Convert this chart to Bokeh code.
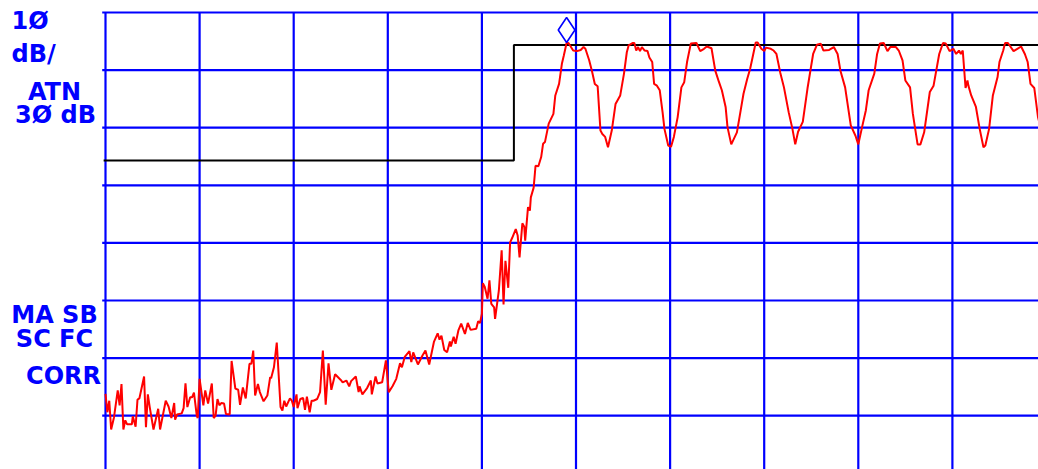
from bokeh.plotting import figure
from bokeh.models import Range1d
from bokeh.core.properties import value
from bokeh.embed import file_html
from bokeh.resources import INLINE

# ---- data (x in graticule divisions, y in dB relative to top graticule line) ----
trace_x = [0.00, 0.02, 0.04, 0.06, 0.09, 0.13, 0.15, 0.17, 0.19, 0.21, 0.23, 0.28, 0.29, 0.32, 0.34, 0.36, 0.41, 0.43, 0.45, 0.47,
           0.51, 0.56, 0.58, 0.64, 0.67, 0.70, 0.73, 0.74, 0.76, 0.81, 0.83, 0.85, 0.87, 0.90, 0.92, 0.94, 0.97, 0.98, 1.00, 1.02,
           1.04, 1.06, 1.09, 1.13, 1.15, 1.17, 1.19, 1.21, 1.23, 1.26, 1.28, 1.32, 1.34, 1.38, 1.41, 1.43, 1.46, 1.49, 1.53, 1.55,
           1.57, 1.59, 1.62, 1.64, 1.68, 1.72, 1.75, 1.76, 1.79, 1.82, 1.86, 1.88, 1.90, 1.92, 1.96,
           1.98, 2.00, 2.03, 2.04, 2.07, 2.10, 2.12, 2.14, 2.17, 2.19, 2.21, 2.25, 2.28, 2.31, 2.34, 2.37, 2.40, 2.44, 2.50, 2.52,
           2.56, 2.59, 2.61, 2.66, 2.69, 2.70, 2.73, 2.78, 2.82, 2.83, 2.87, 2.89, 2.94, 2.98, 3.01, 3.05, 3.09, 3.13, 3.15, 3.18,
           3.23, 3.25, 3.27, 3.32, 3.37, 3.40, 3.44, 3.49, 3.53, 3.55, 3.57, 3.60, 3.63, 3.66, 3.67, 3.70, 3.72, 3.75, 3.78, 3.82,
           3.85, 3.88, 3.94, 3.96, 3.98, 4.00,
           4.01, 4.03, 4.06, 4.08, 4.10, 4.13, 4.14, 4.18, 4.21, 4.23, 4.25, 4.28, 4.30, 4.32, 4.36, 4.38, 4.40, 4.43, 4.45, 4.46,
           4.49, 4.51, 4.52, 4.55, 4.57, 4.60, 4.63, 4.65, 4.67, 4.71, 4.76, 4.78, 4.82, 4.85, 4.87,
           4.90, 4.92, 4.97, 5.01, 5.05, 5.08, 5.10, 5.14, 5.17, 5.20, 5.23, 5.26, 5.28, 5.31, 5.34, 5.38, 5.42, 5.47, 5.51, 5.54,
           5.56, 5.60, 5.62, 5.64, 5.66, 5.68, 5.70, 5.73, 5.76, 5.78, 5.81, 5.83, 5.86, 5.89, 5.92, 5.94, 5.98, 6.01, 6.04, 6.08,
           6.12, 6.15, 6.18, 6.22, 6.28, 6.32, 6.36, 6.39, 6.44, 6.48, 6.52, 6.55, 6.59,
           6.61, 6.65, 6.71, 6.75, 6.78, 6.82, 6.85, 6.87, 6.91, 6.93, 6.97, 7.00, 7.02, 7.07, 7.10, 7.13, 7.17, 7.21, 7.26, 7.30,
           7.33, 7.36, 7.41, 7.46, 7.52, 7.56, 7.60, 7.63, 7.69, 7.74, 7.78, 7.81, 7.86, 7.92, 7.97, 8.00, 8.04, 8.08, 8.11, 8.17,
           8.20, 8.23, 8.27, 8.31, 8.34, 8.40, 8.43, 8.47, 8.50, 8.55, 8.58, 8.63, 8.66, 8.70, 8.76, 8.80, 8.86, 8.90, 8.93, 8.97,
           9.01, 9.04, 9.07, 9.09, 9.11, 9.14, 9.16, 9.17, 9.20, 9.25, 9.29, 9.33, 9.35, 9.39, 9.43, 9.48, 9.50, 9.54, 9.56, 9.59,
           9.65, 9.69, 9.73, 9.77, 9.80, 9.83, 9.87, 9.91, 9.96]

trace_db = [-66.2, -69.4, -67.4, -72.4, -70.3, -65.6, -68.2, -64.5, -72.4, -70.8, -71.5, -71.5, -70.1, -71.9, -67.2, -67.0, -63.2, -72.0, -66.3, -68.5,
            -72.4, -68.8, -72.4, -67.4, -68.4, -70.4, -67.8, -70.7, -69.8, -69.6, -68.7, -64.4, -68.5, -66.8, -66.8, -66.0, -70.0, -70.4, -63.6, -65.9,
            -68.2, -65.6, -67.9, -64.4, -70.4, -70.0, -67.1, -68.2, -67.8, -67.9, -69.7, -69.8, -60.5, -65.3, -65.5, -68.1, -65.1, -67.0, -61.0, -61.0,
            -58.7, -66.5, -64.5, -65.9, -67.5, -66.5, -63.3, -63.5, -61.6, -57.3, -68.5, -69.1, -67.4, -68.4, -67.0,
            -67.4, -68.5, -66.3, -68.7, -67.1, -66.9, -69.0, -66.7, -69.4, -67.4, -67.4, -67.1, -65.9, -58.7, -68.1, -60.9, -65.5, -62.8, -63.8, -64.2,
            -63.9, -64.9, -64.0, -63.2, -65.9, -64.9, -66.3, -65.2, -63.9, -66.3, -63.2, -64.4, -64.2, -60.4, -65.9, -64.9, -63.6, -60.9, -61.6, -59.8,
            -58.8, -60.7, -59.0, -61.1, -59.5, -58.7, -61.1, -57.2, -55.7, -56.8, -56.1, -58.6, -59.0, -57.1, -58.0, -56.3, -57.5, -55.2, -54.0, -55.8,
            -53.9, -55.1, -54.9, -53.6, -53.9, -52.3,
            -47.0, -47.6, -49.7, -46.5, -50.6, -51.2, -53.2, -48.3, -41.3, -50.7, -43.1, -47.8, -39.9, -39.2, -37.6, -38.7, -42.5, -36.6, -37.2, -39.6,
            -33.8, -34.4, -32.1, -30.4, -26.6, -26.7, -25.1, -22.8, -22.5, -19.3, -17.6, -14.4, -12.4, -8.9, -7.5,
            -5.3, -5.3, -6.6, -6.7, -6.5, -6.0, -6.3, -8.3, -10.2, -12.4, -12.8, -20.5, -21.1, -21.6, -23.4, -20.5, -15.9, -14.4, -10.6, -6.9,
            -5.7, -5.3, -5.3, -6.6, -6.0, -6.7, -6.0, -6.6, -6.7, -7.8, -8.6, -12.4, -12.7, -13.5, -17.3, -20.2, -23.1, -23.3, -21.6, -18.2,
            -13.0, -12.1, -8.6, -5.4, -5.3, -6.7, -6.3, -5.9, -6.2, -10.1, -12.1, -13.5, -16.4,
            -19.9, -22.9, -20.8, -17.0, -14.1, -11.5, -9.8, -8.3, -5.2, -5.2, -6.3, -6.7, -6.1, -6.3, -6.6, -7.2, -10.4, -13.0, -17.3, -20.2,
            -22.9, -20.7, -19.0, -13.2, -7.2, -5.6, -5.4, -6.6, -6.5, -6.0, -7.2, -10.1, -13.0, -19.6, -21.4, -22.9, -19.9, -17.0, -13.5, -10.6,
            -7.2, -5.4, -5.3, -6.7, -6.0, -6.0, -6.6, -8.3, -11.8, -13.0, -17.6, -22.9, -22.9, -20.8, -13.8, -12.7, -7.2, -5.3, -5.4, -6.7,
            -6.3, -7.2, -6.6, -7.2, -6.6, -13.1, -11.8, -12.7, -14.4, -16.4, -20.2, -23.4, -23.1, -20.2, -14.4, -11.2, -8.6, -6.6, -5.3, -5.3,
            -6.7, -6.3, -5.9, -7.2, -8.6, -12.4, -13.1, -18.2, -21.5]

assert len(trace_x) == len(trace_db), (len(trace_x), len(trace_db))

# limit line (black)
limit_x = [-0.02, 4.34, 4.34, 10.5]
limit_db = [-25.7, -25.7, -5.65, -5.65]

# marker
marker_x = [4.90]
marker_db = [-3.05]

# graticule
grid_cols = list(range(11))
grid_rows = [0, -10, -20, -30, -40, -50, -60, -70, -80]

# annotation texts
label_text = ["1\u00d8", "dB/", "ATN", "3\u00d8 dB", "MA SB", "SC FC", "CORR"]
label_x = [-0.999, -0.999, -0.542, -0.531, -0.542, -0.542, -0.446]
label_db = [-1.39, -7.12, -13.72, -17.88, -52.6, -56.6, -63.19]
label_align = ["left", "left", "center", "center", "center", "center", "center"]

BLUE = "#0000FF"
RED = "#FF0000"

W, H = 1038, 469
PX_PER_DIV = 94.1
PX_PER_DB = 5.76
x0 = -105 / PX_PER_DIV
y1 = 12 / PX_PER_DB

p = figure(width=W, height=H, output_backend="svg", toolbar_location=None,
           x_range=Range1d(x0, x0 + W / PX_PER_DIV), y_range=Range1d(y1 - H / PX_PER_DB, y1),
           min_border=0, min_border_left=0, min_border_right=0, min_border_top=0, min_border_bottom=0)
p.xaxis.visible = False
p.yaxis.visible = False
p.grid.visible = False
p.outline_line_color = None
p.background_fill_color = "white"
p.border_fill_color = "white"

# graticule lines
p.segment(x0=grid_cols, x1=grid_cols, y0=[0] * len(grid_cols), y1=[-90] * len(grid_cols),
          line_color=BLUE, line_width=2.2)
p.segment(x0=[-0.035] * len(grid_rows), x1=[10.5] * len(grid_rows), y0=grid_rows, y1=grid_rows,
          line_color=BLUE, line_width=2.2)

# limit line
p.line(limit_x, limit_db, line_color="black", line_width=2)

# trace
p.line(trace_x, trace_db, line_color=RED, line_width=2)

# marker
p.scatter(marker_x, marker_db, marker="diamond", size=25, fill_color=None,
          line_color=BLUE, line_width=1.6)

# texts
for t, x, y, a in zip(label_text, label_x, label_db, label_align):
    p.text(x=[x], y=[y], text=[t], text_color=BLUE, text_font=value("DejaVu Sans"),
           text_font_style="bold", text_font_size="24px", text_align=a,
           text_baseline="alphabetic")

open("out.html", "w").write(file_html(p, INLINE))
